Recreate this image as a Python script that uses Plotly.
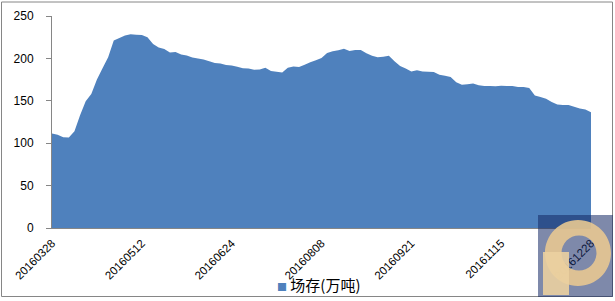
import plotly.graph_objects as go

# ---- data ----
tick_labels = ["20160328", "20160512", "20160624", "20160808",
               "20160921", "20161115", "20161228"]
label_step = 16
stock = [
    111.5, 110.0, 107.0, 106.8, 114.0, 133.0, 149.5, 158.0, 175.0, 188.5,
    201.5, 221.0, 224.0, 227.0, 228.4, 228.0, 227.5, 225.0, 217.0, 213.0,
    211.0, 207.0, 207.5, 204.5, 203.5, 201.0, 200.0, 198.8, 196.5, 194.5,
    194.0, 192.3, 191.7, 190.2, 188.5, 188.0, 186.5, 187.0, 189.0, 185.2,
    184.3, 183.5, 189.0, 190.5, 190.0, 192.5, 195.5, 197.8, 200.5, 206.5,
    208.5, 209.5, 211.3, 208.8, 209.9, 209.9, 206.2, 203.0, 201.3, 202.0,
    203.2, 196.5, 191.0, 188.0, 184.5, 186.0, 184.5, 184.3, 184.0, 180.8,
    179.5, 178.0, 172.0, 168.8, 169.4, 170.3, 168.2, 167.5, 167.5, 167.1,
    167.8, 167.5, 167.5, 166.3, 166.3, 165.0, 156.2, 154.4, 152.5, 148.7,
    145.5, 145.0, 145.0, 143.0, 140.8, 139.8, 136.4,
]
series_name = "场存(万吨)"
series_color = "#4F81BD"

idx = list(range(len(stock)))
tickvals = [i * label_step for i in range(len(tick_labels))]

W, H = 615, 301
L, R, T, B = 52, 24, 16, 73
PW, PH = W - L - R, H - T - B

def px(x):
    return (x - L) / PW

def py(y):
    return (H - B - y) / PH

fig = go.Figure()
fig.add_trace(go.Scatter(
    x=idx, y=stock, mode="none", fill="tozeroy", name=series_name,
    fillcolor=series_color, showlegend=False, hoverinfo="y",
))

axis_grey = "#868686"
fig.update_xaxes(
    range=[0, len(stock) - 1], tickvals=tickvals, ticktext=tick_labels,
    tickangle=-45, showline=True, linecolor=axis_grey, linewidth=1,
    ticks="", showgrid=False, zeroline=False, automargin=False,
    ticklabelstandoff=3,
    tickfont=dict(family="Liberation Sans, Arial", size=11.5, color="#000000"),
)
fig.update_yaxes(
    range=[0, 250], dtick=50, showline=True, linecolor=axis_grey, linewidth=1,
    ticks="outside", ticklen=5, tickcolor=axis_grey, showgrid=False,
    zeroline=False, ticklabelstandoff=10, automargin=False,
    tickfont=dict(family="Liberation Sans, Arial", size=12, color="#000000"),
)

# outer chart border
shapes = [dict(type="rect", xref="paper", yref="paper",
               x0=px(1.5), x1=px(612.5), y0=py(296.5), y1=py(2),
               line=dict(color=axis_grey, width=1), fillcolor="rgba(0,0,0,0)",
               layer="below")]

# watermark logo (bottom right)
def circle_path(cx, cy, r, ccw=False):
    k = 0.5523 * r
    if not ccw:
        pts = [(cx + r, cy),
               (cx + r, cy + k, cx + k, cy + r, cx, cy + r),
               (cx - k, cy + r, cx - r, cy + k, cx - r, cy),
               (cx - r, cy - k, cx - k, cy - r, cx, cy - r),
               (cx + k, cy - r, cx + r, cy - k, cx + r, cy)]
    else:
        pts = [(cx + r, cy),
               (cx + r, cy - k, cx + k, cy - r, cx, cy - r),
               (cx - k, cy - r, cx - r, cy - k, cx - r, cy),
               (cx - r, cy + k, cx - k, cy + r, cx, cy + r),
               (cx + k, cy + r, cx + r, cy + k, cx + r, cy)]
    s = "M%.5f,%.5f " % (px(pts[0][0]), py(pts[0][1]))
    for p in pts[1:]:
        s += "C%.5f,%.5f %.5f,%.5f %.5f,%.5f " % (
            px(p[0]), py(p[1]), px(p[2]), py(p[3]), px(p[4]), py(p[5]))
    return s + "Z"

shapes.append(dict(type="rect", xref="paper", yref="paper",
                   x0=px(538), x1=px(613), y0=py(297), y1=py(215),
                   fillcolor="rgba(20,40,100,0.55)", line=dict(width=0),
                   layer="above"))
ring = circle_path(578, 253, 33) + " " + circle_path(579, 253, 17.5, ccw=True)
shapes.append(dict(type="path", xref="paper", yref="paper", path=ring,
                   fillcolor="rgba(232,200,145,0.9)", line=dict(width=0),
                   layer="above"))
stem = "M%.5f,%.5f L%.5f,%.5f L%.5f,%.5f L%.5f,%.5f Z" % (
    px(543), py(252), px(569), py(252), px(569), py(295), px(543), py(295))
shapes.append(dict(type="path", xref="paper", yref="paper", path=stem,
                   fillcolor="rgba(235,208,160,0.9)", line=dict(width=0),
                   layer="above"))

# legend key (square + label), placed like the original bottom legend
legend_text = ('<span style="color:%s;font-size:10px">■</span> %s'
               % (series_color, series_name))
fig.add_annotation(
    xref="paper", yref="paper", x=px(275), y=py(284),
    xanchor="left", yanchor="middle", showarrow=False, text=legend_text,
    font=dict(family="Noto Sans CJK SC", size=15, color="#000000"),
)

fig.update_layout(
    width=W, height=H, margin=dict(l=L, r=R, t=T, b=B),
    paper_bgcolor="white", plot_bgcolor="white",
    shapes=shapes, showlegend=False,
)

fig.write_html("out.html")
